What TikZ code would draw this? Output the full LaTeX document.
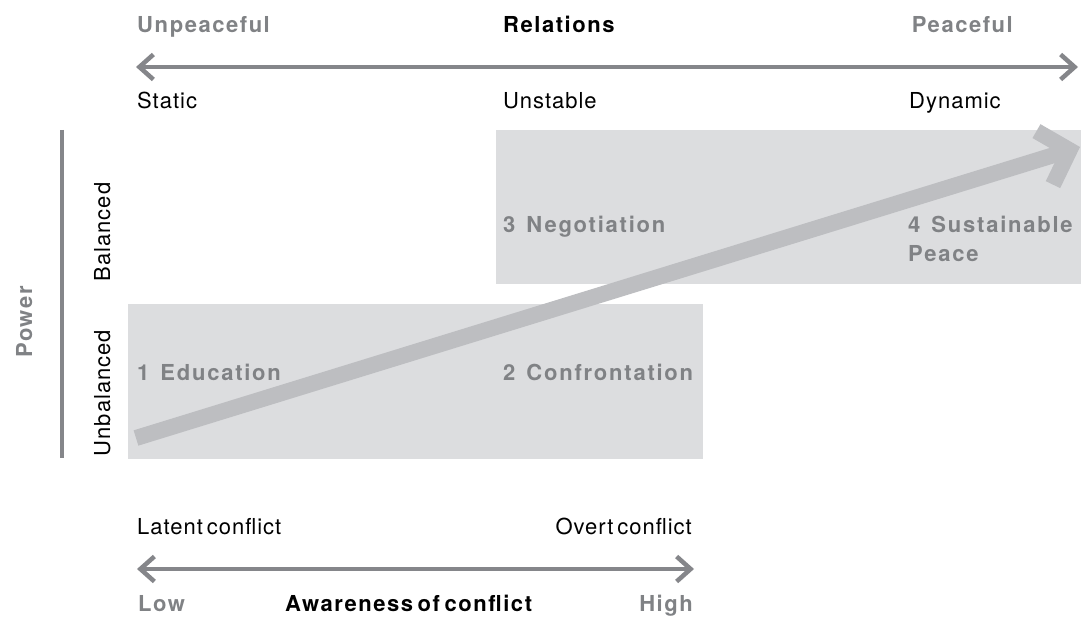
\documentclass[tikz,border=0pt]{standalone}
\usepackage{fontspec}
\setmainfont{TeX Gyre Heros}
\newfontfamily\rgfont[LetterSpace=4.5,WordSpace=0.55]{TeX Gyre Heros}
\newfontfamily\bdfont[LetterSpace=7,WordSpace=0.6]{TeX Gyre Heros}
\newfontfamily\stfont[LetterSpace=8,WordSpace=1.4]{TeX Gyre Heros}
\usetikzlibrary{arrows.meta}
\definecolor{axisgray}{HTML}{85868A}
\definecolor{labelgray}{HTML}{808285}
\definecolor{zonefill}{HTML}{DCDDDF}
\definecolor{pathgray}{HTML}{BDBEC1}

\begin{document}
\begin{tikzpicture}[x=1pt,y=-1pt,
  txt/.style={inner sep=0pt, font=\rgfont\fontsize{22}{26}\selectfont, text=black},
  head/.style={inner sep=0pt, font=\bdfont\bfseries\fontsize{22}{26}\selectfont, text=black},
  pole/.style={inner sep=0pt, font=\bdfont\bfseries\fontsize{22}{26}\selectfont, text=labelgray},
  stage/.style={inner sep=0pt, font=\stfont\bfseries\fontsize{22}{29}\selectfont, text=labelgray, align=left},
  axisline/.style={draw=axisgray, line width=4.5pt,
    {Straight Barb[length=14pt,width=25pt]}-{Straight Barb[length=14pt,width=25pt]}},
  zone/.style={fill=zonefill, inner sep=0pt, anchor=north west},
]
\useasboundingbox (0,0) rectangle (1081,617);

% shaded quadrants
\node[zone, minimum width=575pt, minimum height=155pt] (zoneLow) at (128,304) {};
\node[zone, minimum width=585pt, minimum height=154pt] (zoneHigh) at (496,130) {};

% relations axis
\coordinate (relL) at (136,67);
\coordinate (relR) at (1078,67);
\draw[axisline] (relL) -- (relR);
\node[pole, anchor=base west] (unpeaceful) at (137,33) {Unpeaceful};
\node[head, anchor=base west] (relations) at (503,33) {Relations};
\node[pole, anchor=base east] (peaceful) at (1013,33) {Peaceful};
\node[txt, anchor=base west] (static) at (137,109) {Static};
\node[txt, anchor=base west] (unstable) at (503,109) {Unstable};
\node[txt, anchor=base west] (dynamic) at (909,109) {Dynamic};

% power axis
\coordinate (powTop) at (62,130);
\coordinate (powBot) at (62,458);
\draw[axisgray, line width=4.5pt] (powTop) -- (powBot);
\node[pole, rotate=90, anchor=base] (power) at (32,322) {Power};
\node[txt, rotate=90, anchor=base] (balanced) at (110,232) {Balanced};
\node[txt, rotate=90, anchor=base] (unbalanced) at (110,393) {Unbalanced};

% awareness axis
\coordinate (awL) at (137,569);
\coordinate (awR) at (694,569);
\draw[axisline] (awL) -- (awR);
\node[txt, anchor=base west] (latent) at (137,534) {Latent conflict};
\node[txt, anchor=base east] (overt) at (692,534) {Overt conflict};
\node[pole, anchor=base west] (low) at (138,611) {Low};
\node[head, anchor=base west] (awareness) at (285,611) {Awareness of conflict};
\node[pole, anchor=base east] (high) at (693,611) {High};

% path towards sustainable peace
\coordinate (pathStart) at (136,438);
\coordinate (pathEnd) at (1080,147);
\draw[pathgray, line width=16pt, -{Straight Barb[length=26pt,width=56pt]}] (pathStart) -- (pathEnd);

% stages (a two-line node sits on its last baseline)
\node[stage, anchor=base west] (education) at (137,380) {1 Education};
\node[stage, anchor=base west] (confrontation) at (503,380) {2 Confrontation};
\node[stage, anchor=base west] (negotiation) at (503,233) {3 Negotiation};
\node[stage, anchor=base west] (peace) at (908,262) {4 Sustainable\\Peace};
\end{tikzpicture}
\end{document}
